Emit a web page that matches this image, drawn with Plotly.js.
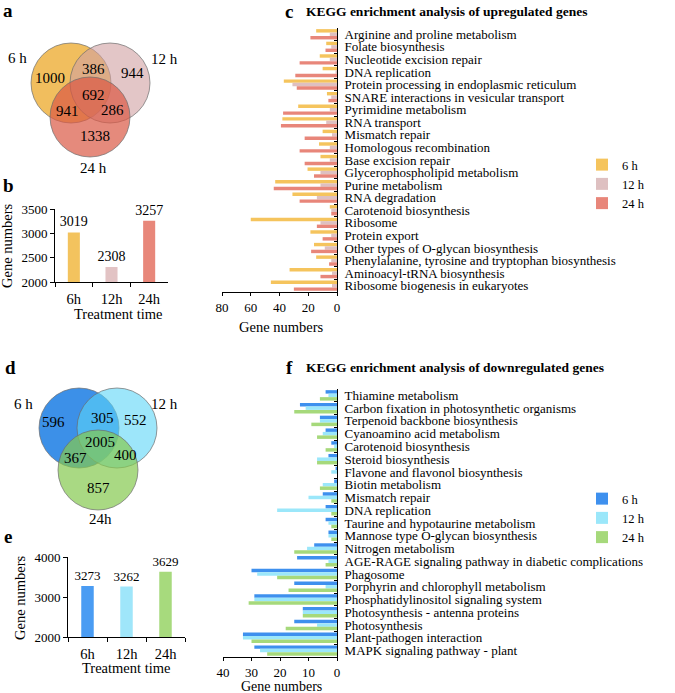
<!DOCTYPE html>
<html><head><meta charset="utf-8">
<script src="https://cdn.plot.ly/plotly-3.0.1.min.js"></script>
<style>html,body{margin:0;padding:0;background:#fff}#chart{width:675px;height:693px}</style>
</head><body><div id="chart"></div>
<script>
// ---------- DATA ----------
const timePoints = ['6h', '12h', '24h'];
const legendNames = ['6 h', '12 h', '24 h'];
const upTotals = [3019, 2308, 3257];
const downTotals = [3273, 3262, 3629];

// Venn regions: 6h only, 12h only, 24h only, 6h&12h, 6h&24h, 12h&24h, all three
const vennRegions = ['6h', '12h', '24h', '6h-12h', '6h-24h', '12h-24h', 'all'];
const vennUpCounts = [1000, 944, 1338, 386, 941, 286, 692];
const vennDownCounts = [596, 552, 857, 305, 367, 400, 2005];
const vennUpSetNames = ['6 h', '12 h', '24 h'];
const vennDownSetNames = ['6 h', '12 h', '24h'];

const upCategories = [
  'Arginine and proline metabolism', 'Folate biosynthesis', 'Nucleotide excision repair',
  'DNA replication', 'Protein processing in endoplasmic reticulum',
  'SNARE interactions in vesicular transport', 'Pyrimidine metabolism', 'RNA transport',
  'Mismatch repair', 'Homologous recombination', 'Base excision repair',
  'Glycerophospholipid metabolism', 'Purine metabolism', 'RNA degradation',
  'Carotenoid biosynthesis', 'Ribosome', 'Protein export',
  'Other types of O-glycan biosynthesis', 'Phenylalanine, tyrosine and tryptophan biosynthesis',
  'Aminoacyl-tRNA biosynthesis', 'Ribosome biogenesis in eukaryotes'];
const up6h  = [14.5, 7.5, 12, 10, 37, 7, 27, 38, 10, 12.5, 11.5, 20.5, 43, 31, 5, 60, 18.5, 16, 14.5, 33, 46];
const up12h = [5, 4, 5, 1, 31, 4, 5, 7.5, 3.5, 5, 5, 11.5, 11.5, 14, 4, 11.5, 4, 8.5, 4, 3.5, 3.5];
const up24h = [18.5, 8, 26, 29, 28, 6, 37.5, 39, 22.5, 26, 22.5, 16, 44, 26, 4, 14, 10, 18, 5.5, 11.5, 30];

const downCategories = [
  'Thiamine metabolism', 'Carbon fixation in photosynthetic organisms',
  'Terpenoid backbone biosynthesis', 'Cyanoamino acid metabolism', 'Carotenoid biosynthesis',
  'Steroid biosynthesis', 'Flavone and flavonol biosynthesis', 'Biotin metabolism',
  'Mismatch repair', 'DNA replication', 'Taurine and hypotaurine metabolism',
  'Mannose type O-glycan biosynthesis', 'Nitrogen metabolism',
  'AGE-RAGE signaling pathway in diabetic complications', 'Phagosome',
  'Porphyrin and chlorophyll metabolism', 'Phosphatidylinositol signaling system',
  'Photosynthesis - antenna proteins', 'Photosynthesis', 'Plant-pathogen interaction',
  'MAPK signaling pathway - plant'];
const down6h  = [4, 13, 6, 4, 2, 3, 0.5, 1, 5, 4, 4, 3, 8, 14, 30, 15, 29, 12, 15, 33, 29];
const down12h = [3, 11, 6, 5, 1, 7, 2, 5, 10, 21, 3, 3, 10.5, 3, 28, 4, 29, 12, 7, 33, 27];
const down24h = [6, 15, 9, 7, 4, 7, 0, 6, 2, 2, 2, 2, 15, 4, 21, 17, 31, 12, 18, 30, 24.5];

// ---------- STYLE / LAYOUT ----------
const W = 675, H = 693;
const px = x => x / W, py = y => 1 - y / H;
const FONT = '"Liberation Serif", "Times New Roman", Times, serif';
const upColors = ['#F3C35E', '#E2C3C4', '#E8877A'];
const downColors = ['#4A9CF3', '#9FE6FA', '#A7DA7D'];
const upBarColors = ['#F5C45D', '#DEC0C1', '#E8867A'];
const downBarColors = ['#3E90EE', '#9BE7FA', '#A6D97B'];

const baseTick = {family: FONT, size: 13, color: '#000'};
function valAxis(extra) {
  return Object.assign({showline: true, linecolor: '#000', linewidth: 1, ticks: 'outside',
    ticklen: 4, tickcolor: '#000', tickfont: baseTick, showgrid: false, zeroline: false,
    automargin: false, fixedrange: true}, extra);
}

const traces = [];
// panel b
traces.push({type: 'bar', x: timePoints, y: upTotals, xaxis: 'x', yaxis: 'y',
  marker: {color: upColors}, width: 0.32, text: upTotals.map(String),
  textposition: 'outside', constraintext: 'none', cliponaxis: false,
  textfont: {family: FONT, size: 14, color: '#000'}, showlegend: false, hoverinfo: 'skip'});
// panel e
traces.push({type: 'bar', x: timePoints, y: downTotals, xaxis: 'x2', yaxis: 'y2',
  marker: {color: downColors}, width: 0.32, text: downTotals.map(String),
  textposition: 'outside', constraintext: 'none', cliponaxis: false,
  textfont: {family: FONT, size: 13, color: '#000'}, showlegend: false, hoverinfo: 'skip'});
// panel c
[up6h, up12h, up24h].forEach((vals, i) => traces.push({type: 'bar', orientation: 'h',
  x: vals, y: upCategories, xaxis: 'x3', yaxis: 'y3', name: legendNames[i],
  marker: {color: upBarColors[i]}, legend: 'legend', hoverinfo: 'skip'}));
// panel f
[down6h, down12h, down24h].forEach((vals, i) => traces.push({type: 'bar', orientation: 'h',
  x: vals, y: downCategories, xaxis: 'x4', yaxis: 'y4', name: legendNames[i],
  marker: {color: downBarColors[i]}, legend: 'legend2', hoverinfo: 'skip'}));

const ann = [];
function txt(x, y, s, o) {
  ann.push(Object.assign({xref: 'paper', yref: 'paper', x: px(x), y: py(y), text: s,
    showarrow: false, xanchor: 'center', yanchor: 'middle',
    font: {family: FONT, size: 15, color: '#000'}}, o || {}));
}
// panel letters
[['a', 8, 11], ['b', 8, 185], ['d', 10, 367], ['e', 8, 536]].forEach(l =>
  txt(l[1], l[2], '<b>' + l[0] + '</b>', {font: {family: FONT, size: 19, color: '#000'}}));
txt(289, 12, '<b>c</b>', {font: {family: FONT, size: 19, color: '#000'}});
txt(289, 367, '<b>f</b>', {font: {family: FONT, size: 19, color: '#000'}});
txt(304, 12, '<b>KEGG enrichment analysis of upregulated genes</b>',
  {xanchor: 'left', font: {family: FONT, size: 13.5, color: '#000'}});
txt(304, 367, '<b>KEGG enrichment analysis of downregulated genes</b>',
  {xanchor: 'left', font: {family: FONT, size: 13.5, color: '#000'}});
// axis titles
txt(7, 246, 'Gene numbers', {textangle: -90, font: {family: FONT, size: 14.5, color: '#000'}});
txt(118, 314, 'Treatment time', {font: {family: FONT, size: 14.5, color: '#000'}});
txt(20, 598, 'Gene numbers', {textangle: -90, font: {family: FONT, size: 14.5, color: '#000'}});
txt(126, 668, 'Treatment time', {font: {family: FONT, size: 14.5, color: '#000'}});
txt(281, 327, 'Gene numbers', {font: {family: FONT, size: 14.5, color: '#000'}});
txt(281, 686, 'Gene numbers', {font: {family: FONT, size: 14, color: '#000'}});

// venn diagrams
const shapes = [];
function venn(circles, fills, counts, setNames, labelPos, countPos) {
  circles.forEach((c, i) => shapes.push({type: 'circle', xref: 'paper', yref: 'paper',
    x0: px(c[0] - c[2]), x1: px(c[0] + c[2]), y0: py(c[1] + c[2]), y1: py(c[1] - c[2]),
    fillcolor: fills[i], line: {color: '#6b6b6b', width: 0.7}, layer: 'above'}));
  setNames.forEach((n, i) => txt(labelPos[i][0], labelPos[i][1], n));
  counts.forEach((v, i) => txt(countPos[i][0], countPos[i][1], String(v)));
}
venn([[71, 83, 40], [110, 83, 40], [90, 117, 40]],
  ['rgba(238,179,66,0.85)', 'rgba(208,160,162,0.6)', 'rgba(218,89,68,0.7)'],
  vennUpCounts, vennUpSetNames,
  [[17, 58], [164, 59], [93, 168]],
  [[50, 78], [132, 73], [95, 136], [93, 69], [67, 111], [113, 110], [93, 95]]);
venn([[79, 428, 40], [117, 428, 40], [98, 470, 40]],
  ['rgba(26,124,228,0.85)', 'rgba(92,213,247,0.6)', 'rgba(132,201,79,0.7)'],
  vennDownCounts, vennDownSetNames,
  [[23, 404], [164, 404], [100, 519]],
  [[53, 422], [135, 420], [98, 488], [102, 418], [75, 458], [125, 455], [100, 442]]);

const legendStyle = {xanchor: 'left', yanchor: 'top', font: {family: FONT, size: 12.5, color: '#000'},
  bgcolor: 'rgba(0,0,0,0)', borderwidth: 0, traceorder: 'normal', itemwidth: 30, tracegroupgap: 0};

const layout = {
  width: W, height: H, margin: {l: 0, r: 0, t: 0, b: 0, pad: 0},
  paper_bgcolor: '#fff', plot_bgcolor: 'rgba(0,0,0,0)',
  barmode: 'group', bargap: 0.18, bargroupgap: 0,
  font: {family: FONT, color: '#000'},
  xaxis: valAxis({domain: [px(55), px(168)], anchor: 'y', type: 'category', tickson: 'boundaries',
    tickfont: {family: FONT, size: 14.5, color: '#000'}, ticklabelstandoff: 4}),
  yaxis: valAxis({domain: [py(282), py(209)], anchor: 'x', range: [2000, 3500], dtick: 500}),
  xaxis2: valAxis({domain: [px(68), px(185)], anchor: 'y2', type: 'category', tickson: 'boundaries',
    tickfont: {family: FONT, size: 14.5, color: '#000'}, ticklabelstandoff: 4}),
  yaxis2: valAxis({domain: [py(637), py(557)], anchor: 'x2', range: [2000, 4000], dtick: 1000}),
  xaxis3: valAxis({domain: [px(222), px(337)], anchor: 'y3', range: [80, 0], dtick: 20, ticklen: 3}),
  yaxis3: valAxis({domain: [py(292), py(28)], anchor: 'x3', side: 'right', type: 'category',
    autorange: 'reversed', ticks: 'inside', tickson: 'boundaries', ticklen: 3, ticklabelstandoff: 4,
    tickmode: 'array', tickvals: upCategories, ticktext: upCategories}),
  xaxis4: valAxis({domain: [px(223), px(337)], anchor: 'y4', range: [40, 0], dtick: 10, ticklen: 3}),
  yaxis4: valAxis({domain: [py(657), py(389)], anchor: 'x4', side: 'right', type: 'category',
    autorange: 'reversed', ticks: 'inside', tickson: 'boundaries', ticklen: 3, ticklabelstandoff: 4,
    tickmode: 'array', tickvals: downCategories, ticktext: downCategories}),
  legend: Object.assign({x: px(582), y: py(150)}, legendStyle),
  legend2: Object.assign({x: px(582), y: py(484)}, legendStyle),
  annotations: ann, shapes: shapes
};

Plotly.newPlot('chart', traces, layout, {displayModeBar: false, staticPlot: true});
</script>
</body></html>
